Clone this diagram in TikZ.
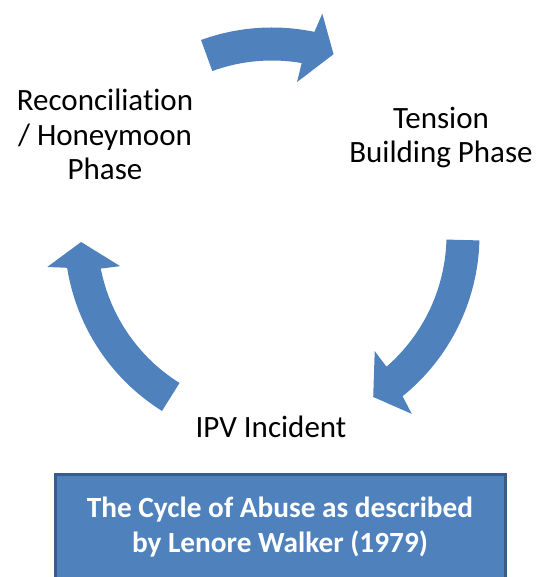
\documentclass[tikz,border=0pt]{standalone}
\usepackage{fontspec}
\setmainfont[Ligatures=NoCommon]{Carlito}
\definecolor{cycleblue}{HTML}{4F81BD}
\definecolor{cycleedge}{HTML}{385D8A}
\begin{document}
\begin{tikzpicture}
  [x=1pt,y=1pt,
   phase/.style={align=center,inner sep=0pt,anchor=base,font=\fontsize{31}{34.5}\selectfont},
   cyclearrow/.style={fill=cycleblue},
   captionbox/.style={draw=cycleedge,line width=3pt,fill=cycleblue,text=white,align=center,
     font=\bfseries\fontsize{29.3}{35}\selectfont,minimum width=450pt,minimum height=105pt}]
  \useasboundingbox (0,0) rectangle (539,577);
  \coordinate (ctr) at (272,342);

  \node[phase] (recon)   at (105,397) {Reconciliation\\/ Honeymoon\\Phase};
  \node[phase] (tension) at (441,414) {Tension\\Building Phase};
  \node[phase] (ipv)     at (271,139) {IPV Incident};

  \begin{scope}[shift={(ctr)}]
  \foreach \tail/\tip in {110/71.2,-1.5/-58,238/182.1}
    \fill[cyclearrow] (\tail:207.5) arc[start angle=\tail,end angle=\tip+7,radius=207.5]
      -- ({\tip+6}:227) -- (\tip:191) -- ({\tip+9.5}:155) -- ({\tip+9}:174.5)
      arc[start angle=\tip+9,end angle=\tail,radius=174.5] -- cycle;
  \end{scope}

  \node[captionbox] (caption) at (280,49.5) {The Cycle of Abuse as described\\by Lenore Walker (1979)};

\end{tikzpicture}
\end{document}
